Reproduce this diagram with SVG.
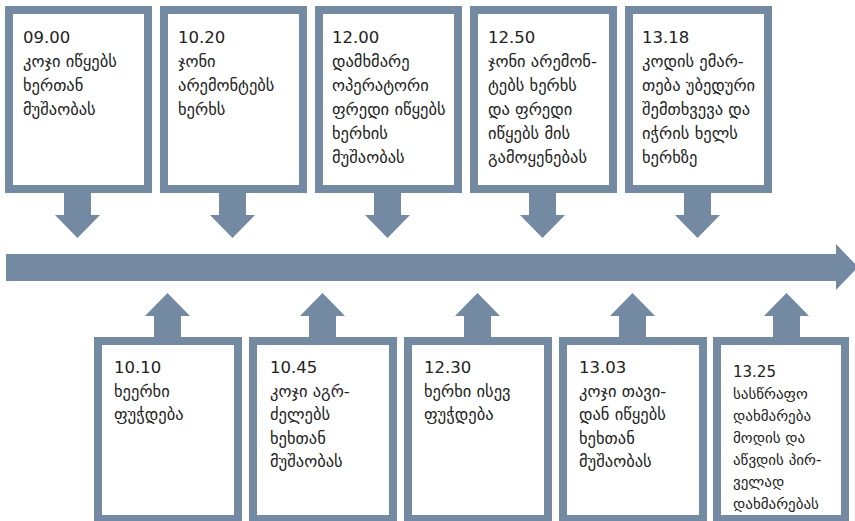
<svg xmlns="http://www.w3.org/2000/svg" width="855" height="521" viewBox="0 0 855 521">
<style>
.box{fill:#fff;stroke:#7489a2;stroke-width:8}
.ar{fill:#7489a2}
text{font-family:"DejaVu Sans",sans-serif;font-size:16.5px;fill:#222}
.sm{font-size:15px}
</style>
<rect width="855" height="521" fill="#fff"/>
<g id="connectors">
<path class="ar" d="M6 254H836V244L858 267L836 290V281H6Z"/>
<path class="ar" d="M64 193H91V215H100L77.5 238L55 215H64Z"/>
<path class="ar" d="M219 193H246V215H255L232.5 238L210 215H219Z"/>
<path class="ar" d="M374 193H401V215H410L387.5 238L365 215H374Z"/>
<path class="ar" d="M529 193H556V215H565L542.5 238L520 215H529Z"/>
<path class="ar" d="M684 193H711V215H720L697.5 238L675 215H684Z"/>
<path class="ar" d="M154 337H181V316H190L167.5 293L145 316H154Z"/>
<path class="ar" d="M309 337H336V316H345L322.5 293L300 316H309Z"/>
<path class="ar" d="M464 337H491V316H500L477.5 293L455 316H464Z"/>
<path class="ar" d="M619 337H646V316H655L632.5 293L610 316H619Z"/>
<path class="ar" d="M773 337H800V316H809L786.5 293L764 316H773Z"/>
</g>
<g id="t1"><rect class="box" x="9" y="10" width="139" height="179"/>
<text x="23" y="43">09.00<tspan x="23" dy="24">კოჯი იწყებს</tspan><tspan x="23" dy="24">ხერთან</tspan><tspan x="23" dy="24">მუშაობას</tspan></text></g>
<g id="t2"><rect class="box" x="164" y="10" width="139" height="179"/>
<text x="178" y="43">10.20<tspan x="178" dy="24">ჯონი</tspan><tspan x="178" dy="24">არემონტებს</tspan><tspan x="178" dy="24">ხერხს</tspan></text></g>
<g id="t3"><rect class="box" x="319" y="10" width="139" height="179"/>
<text x="332" y="43">12.00<tspan x="332" dy="24">დამხმარე</tspan><tspan x="332" dy="24">ოპერატორი</tspan><tspan x="332" dy="24">ფრედი იწყებს</tspan><tspan x="332" dy="24">ხერხის</tspan><tspan x="332" dy="24">მუშაობას</tspan></text></g>
<g id="t4"><rect class="box" x="474" y="10" width="139" height="179"/>
<text x="488" y="43">12.50<tspan x="488" dy="24">ჯონი არემონ-</tspan><tspan x="488" dy="24">ტებს ხერხს</tspan><tspan x="488" dy="24">და ფრედი</tspan><tspan x="488" dy="24">იწყებს მის</tspan><tspan x="488" dy="24">გამოყენებას</tspan></text></g>
<g id="t5"><rect class="box" x="629" y="10" width="139" height="179"/>
<text x="642" y="43">13.18<tspan x="642" dy="24">კოდის ემარ-</tspan><tspan x="642" dy="24">თება უბედური</tspan><tspan x="642" dy="24">შემთხვევა და</tspan><tspan x="642" dy="24">იჭრის ხელს</tspan><tspan x="642" dy="24">ხერხზე</tspan></text></g>
<g id="b1"><rect class="box" x="98" y="341" width="140" height="178"/>
<text x="114" y="373">10.10<tspan x="114" dy="23.5">ხეერხი</tspan><tspan x="114" dy="23.5">ფუჭდება</tspan></text></g>
<g id="b2"><rect class="box" x="253" y="341" width="140" height="178"/>
<text x="270" y="373">10.45<tspan x="270" dy="23.5">კოჯი აგრ-</tspan><tspan x="270" dy="23.5">ძელებს</tspan><tspan x="270" dy="23.5">ხეხთან</tspan><tspan x="270" dy="23.5">მუშაობას</tspan></text></g>
<g id="b3"><rect class="box" x="408" y="341" width="140" height="178"/>
<text x="424" y="373">12.30<tspan x="424" dy="23.5">ხერხი ისევ</tspan><tspan x="424" dy="23.5">ფუჭდება</tspan></text></g>
<g id="b4"><rect class="box" x="563" y="341" width="140" height="178"/>
<text x="579" y="373">13.03<tspan x="579" dy="23.5">კოჯი თავი-</tspan><tspan x="579" dy="23.5">დან იწყებს</tspan><tspan x="579" dy="23.5">ხეხთან</tspan><tspan x="579" dy="23.5">მუშაობას</tspan></text></g>
<g id="b5"><rect class="box" x="717" y="341" width="128" height="178"/>
<text class="sm" x="733" y="377">13.25<tspan x="733" dy="22">სასწრაფო</tspan><tspan x="733" dy="22">დახმარება</tspan><tspan x="733" dy="22">მოდის და</tspan><tspan x="733" dy="22">აწვდის პირ-</tspan><tspan x="733" dy="22">ველად</tspan><tspan x="733" dy="22">დახმარებას</tspan></text></g>
</svg>
